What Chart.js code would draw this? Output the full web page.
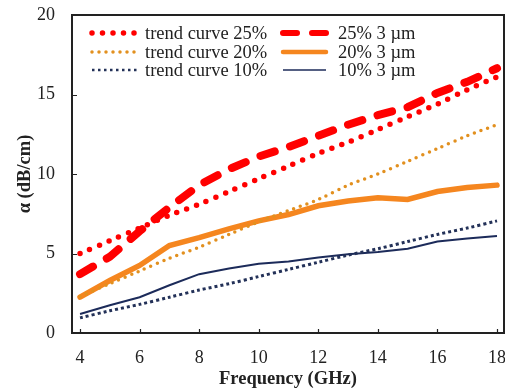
<!DOCTYPE html>
<html>
<head>
<meta charset="utf-8">
<script src="https://cdn.jsdelivr.net/npm/chart.js@4.4.1/dist/chart.umd.min.js"></script>
<style>
  html, body { margin: 0; padding: 0; background: #fff; }
  #wrap { position: relative; width: 505px; height: 390px; }
</style>
</head>
<body>
<div id="wrap"><canvas id="lossChart" width="505" height="390"></canvas></div>
<script>
// ── Frequency points (GHz) ──
const FREQ = [4, 5, 6, 7, 8, 9, 10, 11, 12, 13, 14, 15, 16, 17, 18];

// ── Attenuation α (dB/cm) ──
const TREND_25 = [5.0, 5.8, 6.6, 7.4, 8.1, 8.9, 9.7, 10.5, 11.3, 12.0, 12.8, 13.6, 14.4, 15.3, 16.1];
const MEAS_25  = [3.7, 4.8, 6.4, 7.9, 9.3, 10.3, 11.1, 11.7, 12.4, 13.1, 13.7, 14.2, 15.1, 15.8, 16.65];
const TREND_20 = [2.3, 3.1, 3.9, 4.7, 5.4, 6.2, 7.0, 7.7, 8.4, 9.3, 10.0, 10.8, 11.6, 12.4, 13.1];
const MEAS_20  = [2.25, 3.3, 4.25, 5.5, 6.0, 6.55, 7.05, 7.45, 8.0, 8.3, 8.5, 8.4, 8.9, 9.15, 9.3];
const TREND_10 = [0.95, 1.4, 1.8, 2.25, 2.7, 3.1, 3.55, 4.0, 4.45, 4.9, 5.3, 5.75, 6.2, 6.6, 7.05];
const MEAS_10  = [1.2, 1.75, 2.25, 3.0, 3.7, 4.05, 4.35, 4.5, 4.75, 4.95, 5.1, 5.3, 5.75, 5.95, 6.1];

// ── Axis ticks ──
const X_TICKS = [4, 6, 8, 10, 12, 14, 16, 18];
const Y_TICKS = [0, 5, 10, 15, 20];

const LABELS = ['trend curve 25%', '25% 3 µm', 'trend curve 20%', '20% 3 µm', 'trend curve 10%', '10% 3 µm'];

const SERIF = '"Liberation Serif", "Times New Roman", serif';
const INK = '#222';

const pts = vals => FREQ.map((f, i) => ({ x: f, y: vals[i] }));

// trend curves first so they sit on top of the measured lines
const datasets = [
  { label: LABELS[0], data: pts(TREND_25), borderColor: '#ff0000', borderWidth: 5.5,
    borderDash: [0, 10.5], borderCapStyle: 'round', tension: 0.3 },
  { label: LABELS[2], data: pts(TREND_20), borderColor: '#e2901f', borderWidth: 3.5,
    borderDash: [0, 7], borderCapStyle: 'round', tension: 0.3 },
  { label: LABELS[4], data: pts(TREND_10), borderColor: '#233158', borderWidth: 3,
    borderDash: [3, 3], borderCapStyle: 'butt', tension: 0.3 },
  { label: LABELS[1], data: pts(MEAS_25), borderColor: '#ff0000', borderWidth: 8,
    borderDash: [15, 16], borderCapStyle: 'round', tension: 0 },
  { label: LABELS[3], data: pts(MEAS_20), borderColor: '#f5861f', borderWidth: 5.5,
    borderCapStyle: 'round', tension: 0 },
  { label: LABELS[5], data: pts(MEAS_10), borderColor: '#1c2b5a', borderWidth: 2,
    tension: 0 },
].map(d => ({ ...d, pointRadius: 0, fill: false }));

// ── Frame, inner tick marks and in-plot legend ──
const framePlugin = {
  id: 'frame',
  afterDraw(chart) {
    const { ctx, chartArea: a, scales } = chart;
    ctx.save();
    ctx.strokeStyle = INK;
    ctx.lineWidth = 2;
    ctx.strokeRect(a.left, a.top, a.right - a.left, a.bottom - a.top);
    ctx.lineWidth = 1.2;
    ctx.beginPath();
    X_TICKS.forEach(v => {
      const px = Math.round(scales.x.getPixelForValue(v)) + 0.5;
      ctx.moveTo(px, a.bottom); ctx.lineTo(px, a.bottom - 4);
    });
    Y_TICKS.forEach(v => {
      const py = Math.round(scales.y.getPixelForValue(v)) + 0.5;
      ctx.moveTo(a.left, py); ctx.lineTo(a.left + 5, py);
    });
    ctx.stroke();
    ctx.restore();
  }
};

const LEGEND_ROWS = [
  [{ ds: 0, w: 5.5, dash: [0, 10.5], cap: 'round' }, { ds: 3, w: 6, dash: [14, 15], cap: 'round' }],
  [{ ds: 1, w: 3.5, dash: [0, 7], cap: 'round' },    { ds: 4, w: 4.5, dash: [], cap: 'round' }],
  [{ ds: 2, w: 2.5, dash: [2.5, 3.5], cap: 'butt' }, { ds: 5, w: 1.6, dash: [], cap: 'butt' }],
];

const legendPlugin = {
  id: 'inlineLegend',
  afterDatasetsDraw(chart) {
    const ctx = chart.ctx;
    const rowY = [33, 52, 70];
    const cols = [{ x0: 92, x1: 137, tx: 145 }, { x0: 283, x1: 326, tx: 338 }];
    ctx.save();
    ctx.font = '18.5px ' + SERIF;
    ctx.textBaseline = 'middle';
    LEGEND_ROWS.forEach((row, r) => {
      row.forEach((it, c) => {
        const ds = chart.data.datasets[it.ds];
        const col = cols[c];
        ctx.strokeStyle = ds.borderColor;
        ctx.lineWidth = it.w;
        ctx.lineCap = it.cap;
        ctx.setLineDash(it.dash);
        ctx.beginPath();
        ctx.moveTo(col.x0, rowY[r]);
        ctx.lineTo(col.x1, rowY[r]);
        ctx.stroke();
        ctx.setLineDash([]);
        ctx.fillStyle = INK;
        ctx.fillText(ds.label, col.tx, rowY[r] + 1);
      });
    });
    ctx.restore();
  }
};

Chart.defaults.font.family = SERIF;
Chart.defaults.font.size = 18;
Chart.defaults.color = INK;

new Chart(document.getElementById('lossChart'), {
  type: 'line',
  data: { datasets },
  options: {
    responsive: false,
    animation: false,
    devicePixelRatio: 1,
    layout: { padding: { top: 15, right: 1, left: 0, bottom: 0 } },
    plugins: { legend: { display: false }, tooltip: { enabled: false } },
    scales: {
      x: {
        type: 'linear',
        min: 3.73, max: 18.235,
        afterBuildTicks: s => { s.ticks = X_TICKS.map(v => ({ value: v })); },
        afterFit: s => { s.height = 57; s.paddingLeft = 0; s.paddingRight = 0; },
        grid: { display: false },
        border: { display: false },
        ticks: { padding: 6, maxRotation: 0, font: { size: 18 } },
        title: {
          display: true, text: 'Frequency (GHz)',
          font: { size: 18.5, weight: 'bold' }, padding: { top: 0, bottom: 0 }
        }
      },
      y: {
        min: 0, max: 20,
        afterBuildTicks: s => { s.ticks = Y_TICKS.map(v => ({ value: v })); },
        afterFit: s => { s.width = 72; s.paddingTop = 0; s.paddingBottom = 0; },
        grid: { display: false },
        border: { display: false },
        ticks: { padding: 9, font: { size: 18 } },
        title: {
          display: true, text: 'α (dB/cm)',
          font: { size: 18.5, weight: 'bold' }, padding: { top: 14, bottom: 0 }
        }
      }
    }
  },
  plugins: [framePlugin, legendPlugin]
});
</script>
</body>
</html>
